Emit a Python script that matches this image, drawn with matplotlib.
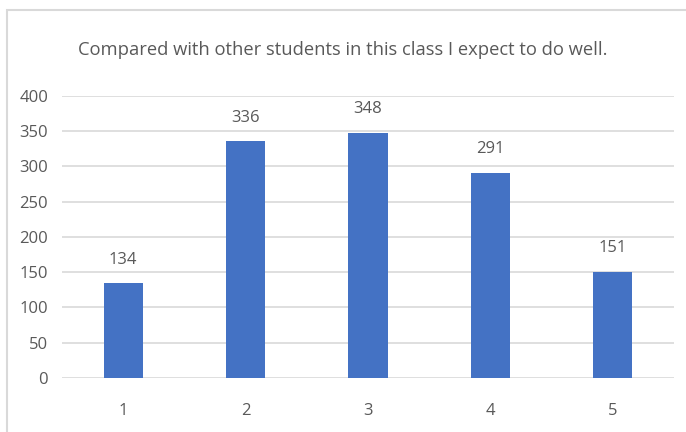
import matplotlib.pyplot as plt
from matplotlib.patches import Rectangle

categories = ['1', '2', '3', '4', '5']
counts = [134, 336, 348, 291, 151]
title = 'Compared with other students in this class I expect to do well.'

BAR_COLOR = '#4472C4'
TEXT_COLOR = '#595959'
GRID_COLOR = '#d9d9d9'

plt.rcParams['font.family'] = ['Open Sans', 'DejaVu Sans']

fig = plt.figure(figsize=(6.86, 4.32), dpi=100)
ax = fig.add_axes([0.0904, 0.125, 0.892, 0.653])

x = range(len(categories))
bars = ax.bar(x, counts, width=0.32, color=BAR_COLOR, zorder=3)

for xi, v in zip(x, counts):
    ax.annotate(str(v), (xi, v), xytext=(0, 11), textcoords='offset points',
                ha='center', va='bottom', fontsize=12, color=TEXT_COLOR)

ax.set_xlim(-0.5, 4.5)
ax.set_ylim(0, 400)
ax.set_yticks(range(0, 401, 50))
ax.set_xticks(list(x))
ax.set_xticklabels(categories)
ax.tick_params(length=0, labelsize=12, labelcolor=TEXT_COLOR)
ax.tick_params(axis='x', pad=18)
ax.tick_params(axis='y', pad=10)

ax.grid(axis='y', color=GRID_COLOR, linewidth=1.2, zorder=0)
for s in ax.spines.values():
    s.set_visible(False)

fig.text(0.5, 0.885, title, ha='center', va='center', fontsize=13.2, color=TEXT_COLOR)

# chart frame
fig.patches.append(Rectangle((6.5 / 686, -0.05), 1.1, 0.05 + 1 - 10 / 432,
                             transform=fig.transFigure, fill=False,
                             edgecolor=GRID_COLOR, linewidth=1.5))

plt.savefig('out.png', dpi=100)
